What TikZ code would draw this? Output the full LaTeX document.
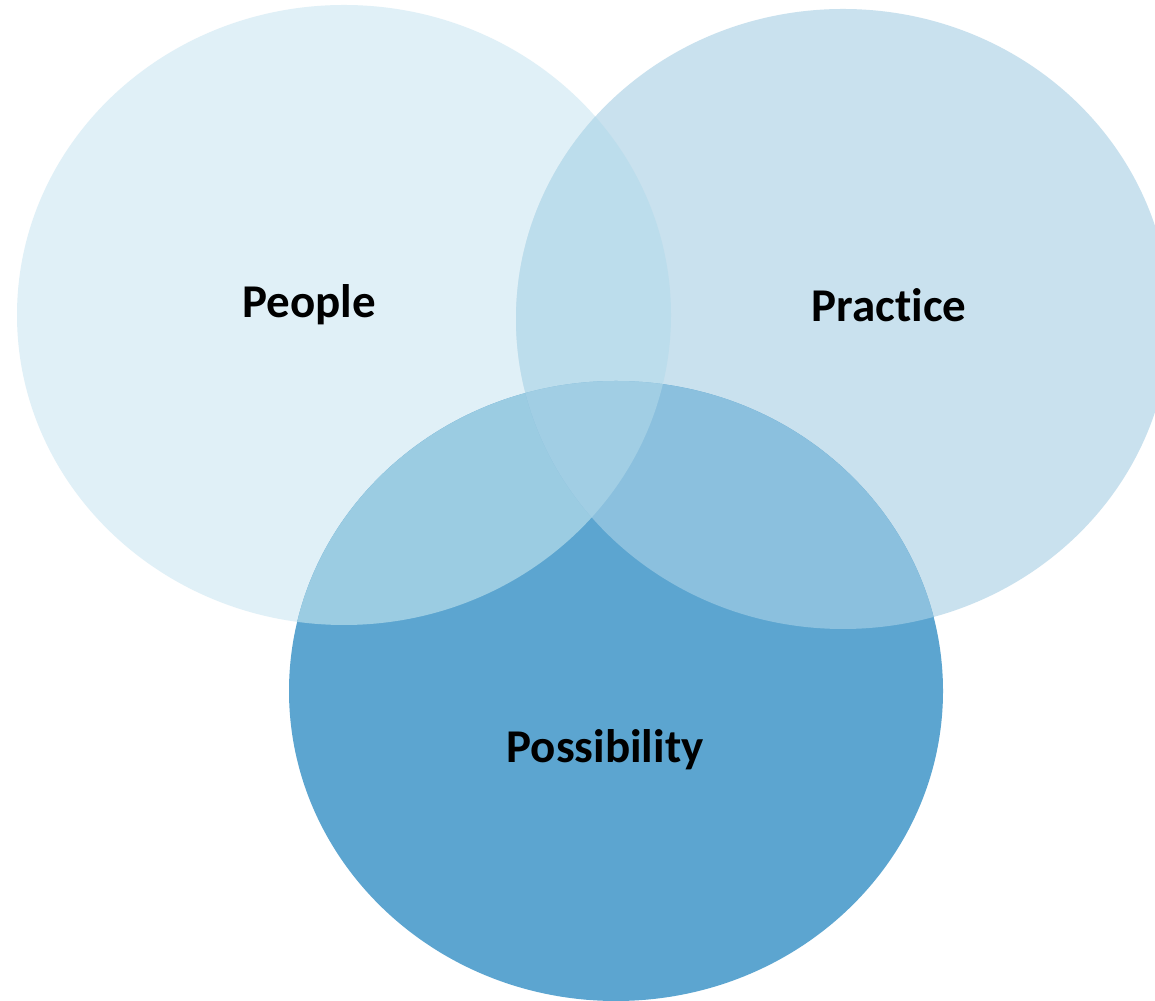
\documentclass[tikz,border=0pt]{standalone}
\usepackage{fontspec}
\setmainfont{Carlito}[Ligatures={NoCommon,NoDiscretionary,NoContextual}]
\definecolor{cpeople}{HTML}{E0F0F7}
\definecolor{cpractice}{HTML}{C9E1EE}
\definecolor{cposs}{HTML}{5CA5D0}
\definecolor{cpp}{HTML}{BCDDEC}
\definecolor{cpeoposs}{HTML}{9BCCE2}
\definecolor{cpraposs}{HTML}{8BC0DE}
\definecolor{call}{HTML}{A1CEE4}
\tikzset{lbl/.style={font=\fontsize{47}{56}\selectfont\bfseries, text=black}}
\newcommand{\PeoplePath}{(344,685) ellipse [x radius=327, y radius=310]}
\newcommand{\PracticePath}{(843,681) ellipse [x radius=327, y radius=310]}
\newcommand{\PossPath}{(616,309) ellipse [x radius=327, y radius=310]}
\begin{document}
\begin{tikzpicture}[x=1pt,y=1pt]
\useasboundingbox (0,0) rectangle (1155,1000);
\fill[white] (0,0) rectangle (1155,1000);
\fill[cpeople] \PeoplePath;
\fill[cpractice] \PracticePath;
\fill[cposs] \PossPath;
\begin{scope}
\clip \PeoplePath;
\fill[cpp] \PracticePath;
\fill[cpeoposs] \PossPath;
\end{scope}
\begin{scope}
\clip \PracticePath;
\fill[cpraposs] \PossPath;
\end{scope}
\begin{scope}
\clip \PeoplePath;
\clip \PracticePath;
\fill[call] \PossPath;
\end{scope}
\node[lbl] (people) at (309,695) {People};
\node[lbl] (practice) at (889,695) {Practice};
\node[lbl] (possibility) at (605,250) {Possibility};
\end{tikzpicture}
\end{document}
